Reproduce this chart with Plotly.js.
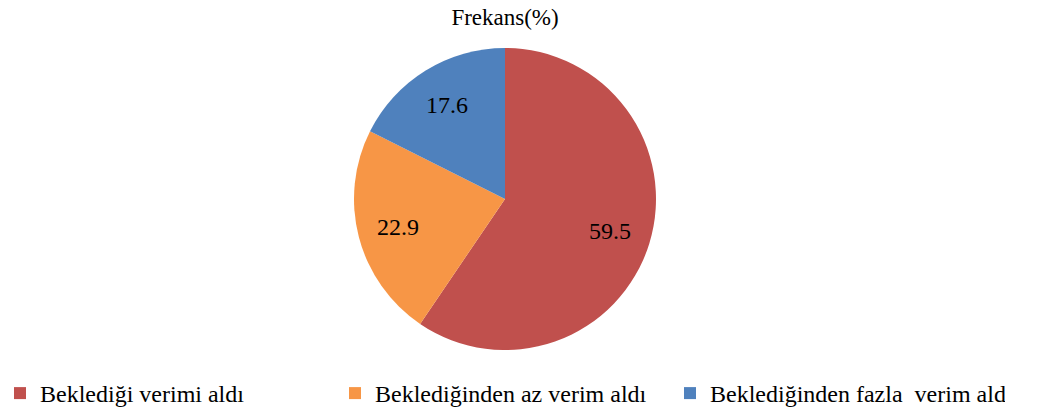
<!DOCTYPE html>
<html>
<head>
<meta charset="utf-8">
<script src="https://cdn.plot.ly/plotly-3.0.1.min.js"></script>
<style>
html,body{margin:0;padding:0;background:#fff;font-family:'Liberation Serif',serif;}
#plot svg text{font-family:'Liberation Serif','Times New Roman',serif !important;}
</style>
</head>
<body>
<div id="plot"></div>
<script>
const categories = ["Beklediği verimi aldı", "Beklediğinden az verim aldı", "Beklediğinden fazla  verim aldı"];
const values = [59.5, 22.9, 17.6];
const colors = ["#C0504D", "#F79646", "#4F81BD"];
const chartTitle = "Frekans(%)";

var serifStack = "Liberation Serif";
var pieCx = 505, pieCy = 199, pieR = 151, pageW = 1050, pageH = 416;

var pieTrace = {
  type: "pie",
  labels: categories,
  values: values,
  sort: false,
  direction: "clockwise",
  rotation: 0,
  marker: {colors: colors},
  textinfo: "none",
  domain: {x: [(pieCx - pieR) / pageW, (pieCx + pieR) / pageW], y: [1 - (pieCy + pieR) / pageH, 1 - (pieCy - pieR) / pageH]}
};

// value labels at each slice's mid-angle, ~0.73 of the radius (Excel-style)
var sumVals = values.reduce(function (a, b) { return a + b; }, 0);
var acc = 0;
var valueLabels = values.map(function (v) {
  var mid = (acc + v / 2) / sumVals * 2 * Math.PI;
  acc += v;
  return {
    text: v.toFixed(1), showarrow: false,
    xref: "paper", yref: "paper",
    x: (pieCx + 0.73 * pieR * Math.sin(mid)) / pageW,
    y: 1 - (pieCy - 0.73 * pieR * Math.cos(mid)) / pageH,
    xanchor: "center", yanchor: "middle",
    font: {family: serifStack, size: 24, color: "#000000"}
  };
});

var lay = {
  width: 1050,
  height: 416,
  margin: {l: 0, r: 0, t: 0, b: 0},
  font: {family: serifStack, size: 24, color: "#000000"},
  title: {text: chartTitle, font: {family: serifStack, size: 23, color: "#000000"}, x: 0.481, xanchor: "center", y: 0.96, yanchor: "middle"},
  annotations: valueLabels,
  showlegend: true,
  legend: {
    orientation: "h",
    x: 0, xanchor: "left",
    y: 0, yanchor: "bottom",
    font: {family: serifStack, size: 24, color: "#000000"},
    entrywidth: 290,
    entrywidthmode: "pixels",
    traceorder: "normal"
  }
};

Plotly.newPlot("plot", [pieTrace], lay, {staticPlot: true});
</script>
</body>
</html>
